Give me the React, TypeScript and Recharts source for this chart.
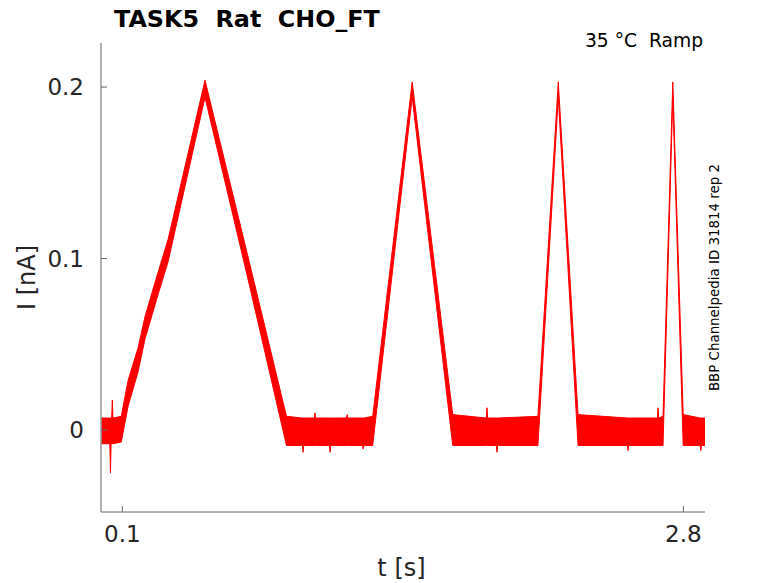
import { ComposedChart, Area, XAxis, YAxis } from 'recharts';

const timeS = [
  0.0, 0.04, 0.043, 0.046, 0.049, 0.052, 0.055, 0.095, 0.128, 0.176, 0.209, 0.272, 0.32, 0.498, 0.705,
  0.89, 0.967, 0.97, 0.973, 1.024, 1.027, 1.03, 1.097, 1.1, 1.103, 1.179, 1.182, 1.185, 1.256, 1.259, 1.262,
  1.305, 1.495, 1.69, 1.852, 1.855, 1.858, 1.9, 1.903, 1.906,
  2.1, 2.198, 2.293, 2.531, 2.534, 2.537, 2.675, 2.678, 2.681,
  2.702, 2.749, 2.799, 2.881, 2.884, 2.887, 2.904,
];
const lowerNA = [
  -0.008, -0.008, -0.025, -0.008, -0.008, -0.008, -0.008, -0.007, 0.014, 0.034, 0.053, 0.079, 0.098, 0.194, 0.088,
  -0.009, -0.009, -0.013, -0.009, -0.009, -0.009, -0.009, -0.009, -0.013, -0.009, -0.009, -0.009, -0.009, -0.009, -0.011, -0.009,
  -0.009, 0.194, -0.009, -0.009, -0.009, -0.009, -0.009, -0.013, -0.009,
  -0.009, 0.194, -0.009, -0.009, -0.012, -0.009, -0.009, -0.009, -0.009,
  -0.009, 0.194, -0.009, -0.009, -0.012, -0.009, -0.009,
];
const upperNA = [
  0.007, 0.007, 0.007, 0.007, 0.007, 0.0175, 0.007, 0.008, 0.029, 0.048, 0.066, 0.092, 0.111, 0.204, 0.101,
  0.008, 0.007, 0.007, 0.007, 0.007, 0.01, 0.007, 0.007, 0.007, 0.007, 0.007, 0.009, 0.007, 0.007, 0.007, 0.007,
  0.008, 0.203, 0.009, 0.007, 0.013, 0.007, 0.007, 0.007, 0.007,
  0.008, 0.203, 0.009, 0.007, 0.007, 0.007, 0.007, 0.013, 0.007,
  0.008, 0.203, 0.009, 0.007, 0.007, 0.007, 0.007,
];

const xTicks = [0.1, 2.8];
const yTicks = [0, 0.1, 0.2];

const rows = timeS.map((t, i) => ({ t, band: [lowerNA[i], upperNA[i]] }));

const font = '"DejaVu Sans", sans-serif';
const tickColor = '#262626';
const axisColor = '#666666';
const Y_MARGIN = 17;

function YTick(props: any) {
  const { x, y, payload } = props;
  return (
    <g>
      <line x1={x + Y_MARGIN} x2={x + Y_MARGIN + 6} y1={y} y2={y} stroke={axisColor} />
      <text x={x} y={y} textAnchor="end" dominantBaseline="central" fontFamily={font} fontSize={23} fill={tickColor}>
        {payload.value}
      </text>
    </g>
  );
}

function XTick(props: any) {
  const { x, y, payload } = props;
  return (
    <g>
      <line x1={x} x2={x} y1={y} y2={y - 6} stroke={axisColor} />
      <text x={x} y={y + 30} textAnchor="middle" fontFamily={font} fontSize={23} fill={tickColor}>
        {payload.value}
      </text>
    </g>
  );
}

export default function App() {
  return (
    <div style={{ position: 'absolute', left: 0, top: 0, width: 778, height: 583, background: '#fff' }}>
      <ComposedChart width={778} height={583} data={rows} margin={{ top: 43, right: 73, bottom: 0, left: 0 }}>
        <XAxis
          type="number"
          dataKey="t"
          domain={[-0.0025, 2.904]}
          ticks={xTicks}
          allowDataOverflow
          height={71}
          tickSize={0}
          tickMargin={0}
          axisLine={{ stroke: axisColor }}
          tick={<XTick />}
        />
        <YAxis
          type="number"
          domain={[-0.0478, 0.2257]}
          ticks={yTicks}
          allowDataOverflow
          width={101}
          tickSize={0}
          tickMargin={Y_MARGIN}
          axisLine={{ stroke: axisColor }}
          tick={<YTick />}
        />
        <Area
          dataKey="band"
          type="linear"
          stroke="#ff0000"
          strokeWidth={1}
          fill="#ff0000"
          fillOpacity={1}
          dot={false}
          activeDot={false}
          isAnimationActive={false}
        />
      </ComposedChart>
      <svg width={778} height={583} style={{ position: 'absolute', left: 0, top: 0, pointerEvents: 'none' }}>
        <text x={114} y={27} fontFamily={font} fontSize={23.8} fontWeight="bold" fill="#000" style={{ whiteSpace: 'pre' }}>
          {'TASK5  Rat  CHO_FT'}
        </text>
        <text x={703} y={47} textAnchor="end" fontFamily={font} fontSize={18.7} fill="#000" style={{ whiteSpace: 'pre' }}>
          {'35 °C  Ramp'}
        </text>
        <text x={35} y={277.5} transform="rotate(-90 35 277.5)" textAnchor="middle" fontFamily={font} fontSize={24} fill={tickColor}>
          I [nA]
        </text>
        <text x={401.5} y={576} textAnchor="middle" fontFamily={font} fontSize={24} fill={tickColor}>
          t [s]
        </text>
        <text x={719} y={277.5} transform="rotate(-90 719 277.5)" textAnchor="middle" fontFamily={font} fontSize={13.4} fill="#000">
          BBP Channelpedia ID 31814 rep 2
        </text>
      </svg>
    </div>
  );
}
